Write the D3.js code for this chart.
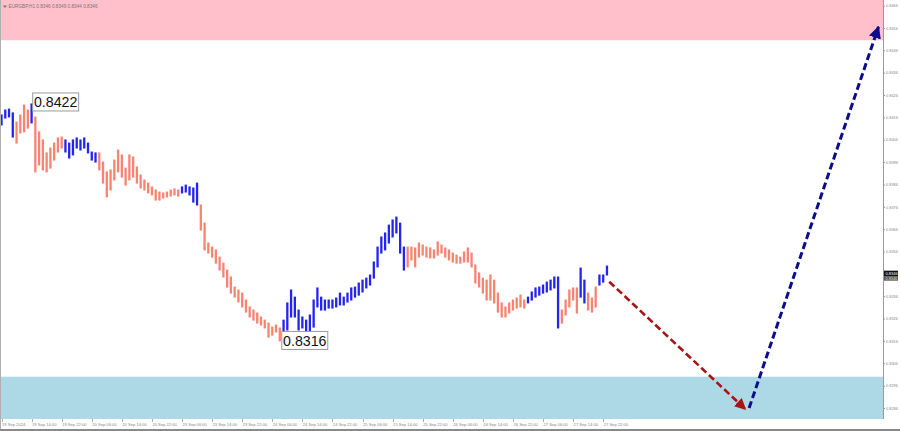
<!DOCTYPE html>
<html><head><meta charset="utf-8">
<script src="https://cdn.jsdelivr.net/npm/d3@7/dist/d3.min.js"></script>
<style>html,body{margin:0;padding:0;background:#fff;}svg{display:block;}</style>
</head><body><svg id="c" width="900" height="431"></svg>
<script>
const symbolTitle = "EURGBP,H1  0.8346 0.8349 0.8344 0.8346";
const timeLabels = ["19 Sep 2024","19 Sep 14:00","19 Sep 22:00","20 Sep 06:00","20 Sep 14:00","20 Sep 22:00","23 Sep 06:00","23 Sep 14:00","23 Sep 22:00","24 Sep 06:00","24 Sep 14:00","24 Sep 22:00","25 Sep 06:00","25 Sep 14:00","25 Sep 22:00","26 Sep 06:00","26 Sep 14:00","26 Sep 22:00","27 Sep 06:00","27 Sep 14:00","27 Sep 22:00"];
const timeLabelIndex = [0,8,16,24,32,40,48,56,64,72,80,88,96,104,112,120,128,136,144,152,160];
const priceTicks = [0.8286,0.8296,0.8306,0.8316,0.8326,0.8336,0.8346,0.8356,0.8366,0.8376,0.8386,0.8396,0.8406,0.8416,0.8426,0.8436,0.8446,0.8456,0.8466];
const highs = [0.84171,0.84193,0.84197,0.84180,0.84139,0.84171,0.84215,0.84193,0.84220,0.84162,
0.84095,0.84059,0.84001,0.84023,0.84045,0.84068,0.84072,0.84059,0.84045,0.84059,
0.84068,0.84059,0.84068,0.84045,0.84005,0.84001,0.84001,0.83960,0.83916,0.83925,
0.83969,0.84014,0.83992,0.83933,0.83992,0.83983,0.83938,0.83902,0.83880,0.83866,
0.83849,0.83835,0.83826,0.83822,0.83826,0.83835,0.83840,0.83835,0.83849,0.83857,
0.83849,0.83844,0.83866,0.83768,0.83687,0.83598,0.83580,0.83567,0.83535,0.83508,
0.83477,0.83446,0.83401,0.83388,0.83374,0.83343,0.83312,0.83298,0.83285,0.83267,
0.83253,0.83240,0.83222,0.83231,0.83218,0.83253,0.83330,0.83388,0.83356,0.83298,
0.83267,0.83253,0.83276,0.83343,0.83397,0.83356,0.83343,0.83343,0.83343,0.83352,
0.83374,0.83356,0.83374,0.83397,0.83401,0.83419,0.83432,0.83441,0.83455,0.83513,
0.83580,0.83625,0.83643,0.83678,0.83701,0.83714,0.83687,0.83580,0.83580,0.83580,
0.83576,0.83598,0.83589,0.83580,0.83576,0.83567,0.83603,0.83589,0.83576,0.83567,
0.83553,0.83544,0.83535,0.83558,0.83576,0.83553,0.83500,0.83464,0.83441,0.83432,
0.83455,0.83432,0.83374,0.83330,0.83312,0.83330,0.83343,0.83352,0.83365,0.83343,
0.83356,0.83379,0.83397,0.83401,0.83410,0.83423,0.83432,0.83446,0.83446,0.83298,
0.83343,0.83388,0.83397,0.83397,0.83486,0.83432,0.83374,0.83352,0.83401,0.83455,
0.83455,0.83495];
const lows = [0.84126,0.84157,0.84162,0.84072,0.84045,0.84090,0.84095,0.84112,0.84135,0.83916,
0.83947,0.83925,0.83916,0.83933,0.83969,0.84005,0.84023,0.84005,0.83978,0.83992,
0.84023,0.84014,0.84023,0.84001,0.83969,0.83960,0.83925,0.83866,0.83804,0.83835,
0.83880,0.83916,0.83893,0.83857,0.83880,0.83893,0.83866,0.83844,0.83835,0.83822,
0.83813,0.83790,0.83790,0.83799,0.83804,0.83808,0.83813,0.83808,0.83822,0.83826,
0.83813,0.83781,0.83768,0.83656,0.83567,0.83553,0.83535,0.83508,0.83477,0.83446,
0.83401,0.83374,0.83356,0.83334,0.83312,0.83289,0.83267,0.83253,0.83240,0.83231,
0.83218,0.83177,0.83186,0.83200,0.83160,0.83164,0.83209,0.83267,0.83267,0.83209,
0.83218,0.83200,0.83160,0.83222,0.83312,0.83298,0.83298,0.83307,0.83307,0.83312,
0.83321,0.83321,0.83334,0.83343,0.83356,0.83365,0.83379,0.83397,0.83410,0.83441,
0.83491,0.83553,0.83567,0.83598,0.83625,0.83643,0.83553,0.83477,0.83491,0.83522,
0.83491,0.83535,0.83544,0.83535,0.83531,0.83531,0.83544,0.83553,0.83535,0.83522,
0.83513,0.83508,0.83508,0.83513,0.83513,0.83491,0.83419,0.83401,0.83374,0.83343,
0.83343,0.83330,0.83289,0.83267,0.83267,0.83285,0.83298,0.83307,0.83312,0.83307,
0.83330,0.83343,0.83356,0.83365,0.83374,0.83379,0.83388,0.83397,0.83218,0.83240,
0.83276,0.83312,0.83343,0.83285,0.83356,0.83330,0.83298,0.83289,0.83312,0.83410,
0.83423,0.83455];
const waveSegments = [[0,3,"up"],[4,7,"down"],[8,8,"up"],[9,16,"down"],[17,25,"up"],[26,47,"down"],[48,52,"up"],[53,74,"down"],[75,107,"up"],[108,139,"down"],[140,148,"up"],[149,153,"down"],[154,155,"up"],[156,158,"down"],[159,161,"up"]];
const zoneNames = ["resistance","support"];
const zoneLow = [0.84505, 0.8270];
const zoneHigh = [0.8480, 0.8300];
const markerLabels = ["0.8422","0.8316"];
const markerIndex = [8, 74];
const markerPrice = [0.8422, 0.8316];
const arrowNames = ["down","up"];
const arrowStartIndex = [161.6, 198.8];
const arrowStartPrice = [0.83425, 0.8286];
const arrowEndIndex = [197.8, 233.2];
const arrowEndPrice = [0.82855, 0.84565];
const lastPrice = 0.8346;

const svg = d3.select("#c");
const W = 900, H = 431, plotR = 883, plotB = 419;
const x = d3.scaleLinear().domain([-0.4, 234.4]).range([0, plotR]);
const y = d3.scaleLinear().domain([0.8286, 0.8466]).range([408, 5.6]);
const colorOf = {up:"#2424f0", down:"#f88370"};
const zoneColor = {resistance:"#ffc0cb", support:"#add8e6"};
const arrowColor = {down:"#a81414", up:"#0c0c8c"};
const smallFont = "'Liberation Sans',Arial,sans-serif";

const defs = svg.append("defs");
defs.append("clipPath").attr("id","plot").append("rect").attr("x",0).attr("y",0).attr("width",plotR).attr("height",plotB);
arrowNames.forEach(n=>{
  defs.append("marker").attr("id","ah-"+n).attr("viewBox","0 0 10 10").attr("refX",9).attr("refY",5)
    .attr("markerWidth", n==="up"?4.2:4.4).attr("markerHeight", n==="up"?4.2:4.4).attr("markerUnits","strokeWidth").attr("orient","auto")
    .append("path").attr("d","M0,0 L10,5 L0,10 Z").attr("fill",arrowColor[n]);
});

svg.append("rect").attr("width",W).attr("height",H).attr("fill","#fff");
const plot = svg.append("g").attr("clip-path","url(#plot)");
plot.selectAll("rect.zone").data(zoneNames).join("rect").attr("class","zone")
  .attr("x",0).attr("width",plotR)
  .attr("y",(d,i)=>y(zoneHigh[i])).attr("height",(d,i)=>y(zoneLow[i])-y(zoneHigh[i]))
  .attr("fill",d=>zoneColor[d]);

const bars = highs.map((h,i)=>{
  const seg = waveSegments.find(s=>i>=s[0]&&i<=s[1]);
  return {i, h, l: lows[i], dir: seg ? seg[2] : "down"};
});
plot.selectAll("line.bar").data(bars).join("line").attr("class","bar")
  .attr("x1",d=>x(d.i)).attr("x2",d=>x(d.i))
  .attr("y1",d=>y(d.h)-0.5).attr("y2",d=>y(d.l)+0.5)
  .attr("stroke",d=>colorOf[d.dir]).attr("stroke-width",2.3);

arrowNames.forEach((n,k)=>{
  plot.append("line")
    .attr("x1",x(arrowStartIndex[k])).attr("y1",y(arrowStartPrice[k]))
    .attr("x2",x(arrowEndIndex[k])).attr("y2",y(arrowEndPrice[k]))
    .attr("stroke",arrowColor[n]).attr("stroke-width", n==="up"?3:2.6)
    .attr("stroke-dasharray","7,3.5").attr("marker-end","url(#ah-"+n+")");
});

markerLabels.forEach((t,k)=>{
  const bx = x(markerIndex[k]) + (k===0?0.6:1.5);
  const by = y(markerPrice[k]) - (k===0?11.5:10);
  const g = svg.append("g");
  g.append("rect").attr("x",bx+0.5).attr("y",by+0.5).attr("width",46).attr("height",18)
    .attr("fill","#fff").attr("stroke","#9a9a9a").attr("stroke-width",1);
  g.append("text").attr("x",bx+23.5).attr("y",by+15).attr("text-anchor","middle")
    .attr("font-family","'Liberation Sans',Arial,sans-serif").attr("font-size",14.2).attr("fill","#111").text(t);
});

svg.append("line").attr("x1",plotR+0.5).attr("x2",plotR+0.5).attr("y1",0).attr("y2",plotB).attr("stroke","#9a9a9a").attr("stroke-width",1);
svg.append("line").attr("x1",0.5).attr("x2",0.5).attr("y1",0).attr("y2",H).attr("stroke","#b0b0b0").attr("stroke-width",1);
svg.append("line").attr("x1",0).attr("x2",W).attr("y1",H-1).attr("y2",H-1).attr("stroke","#8a8a8a").attr("stroke-width",2);

const yAxis = d3.axisRight(y).tickValues(priceTicks).tickFormat(d3.format(".4f")).tickSize(2).tickPadding(1);
const ya = svg.append("g").attr("transform",`translate(${plotR},0)`).call(yAxis);
ya.select(".domain").remove();
ya.selectAll("line").attr("stroke","#999");
ya.selectAll("text").attr("font-family",smallFont).attr("font-size",3.9).attr("fill","#888");

const lp = svg.append("g");
lp.append("rect").attr("x",plotR+1).attr("y",y(lastPrice)-3.2).attr("width",14).attr("height",5.5).attr("fill","#111");
lp.append("rect").attr("x",plotR+1).attr("y",y(lastPrice)+2.3).attr("width",14).attr("height",4.5).attr("fill","#555");
lp.append("text").attr("x",plotR+2.5).attr("y",y(lastPrice)+1.6).attr("font-family",smallFont).attr("font-size",4).attr("fill","#fff").text(d3.format(".4f")(lastPrice));
lp.append("text").attr("x",plotR+2.5).attr("y",y(lastPrice)+6.2).attr("font-family",smallFont).attr("font-size",3.8).attr("fill","#ddd").text(d3.format(".4f")(lastPrice));

const xt = svg.append("g");
xt.selectAll("line").data(timeLabelIndex).join("line")
  .attr("x1",d=>Math.round(x(d))+0.5).attr("x2",d=>Math.round(x(d))+0.5).attr("y1",plotB).attr("y2",plotB+3)
  .attr("stroke","#999").attr("stroke-width",0.8);
xt.selectAll("text").data(timeLabels).join("text")
  .attr("x",(d,i)=>x(timeLabelIndex[i])+0.5).attr("y",426)
  .attr("font-family",smallFont).attr("font-size",4.1).attr("fill","#888").text(d=>d);

svg.append("path").attr("d","M3,5.5 L7,5.5 L5,8 Z").attr("fill","#777");
svg.append("text").attr("x",8.5).attr("y",8.3).attr("font-family",smallFont).attr("font-size",4.7).attr("fill","#777").text(symbolTitle);
</script></body></html>
